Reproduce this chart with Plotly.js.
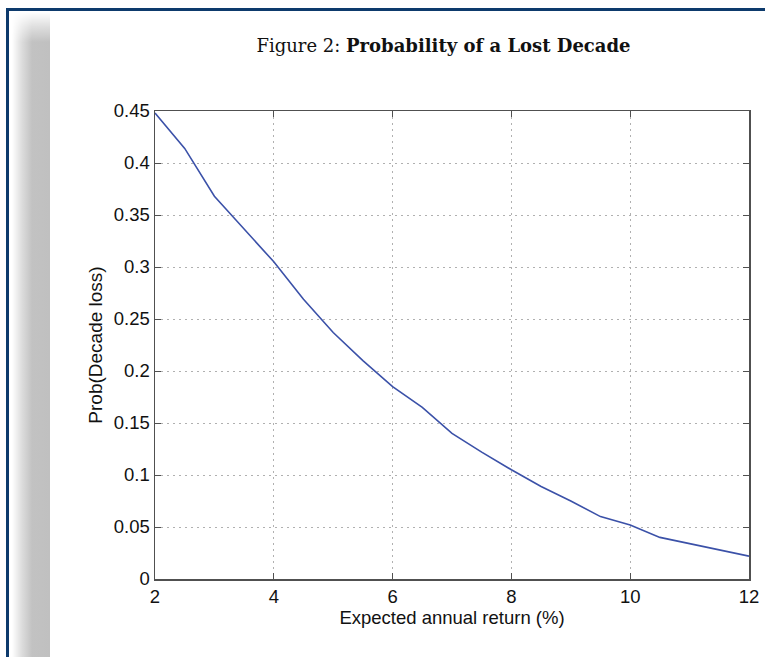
<!DOCTYPE html>
<html>
<head>
<meta charset="utf-8">
<script src="https://cdn.plot.ly/plotly-3.0.1.min.js"></script>
<style>
  html, body { margin: 0; padding: 0; background: #ffffff; }
  #wrap { position: relative; width: 765px; height: 657px; overflow: hidden; background: #ffffff; }
  #frame { position: absolute; left: 6px; top: 8px; right: -10px; bottom: -10px;
           border-top: 3px solid #0d3a6c; border-left: 3px solid #0d3a6c; }
  #shade { position: absolute; left: 12px; top: 12px; width: 38px; bottom: 0;
           background: linear-gradient(to right, #ffffff 0px, #dcdcdc 10px, #c2c2c2 20px, #c0c0c0 38px);
           -webkit-mask-image: linear-gradient(to bottom, transparent 0px, rgba(0,0,0,0.5) 14px, #000 30px);
           mask-image: linear-gradient(to bottom, transparent 0px, rgba(0,0,0,0.5) 14px, #000 30px); }
  #chart { position: absolute; left: 0; top: 0; width: 765px; height: 657px; }
</style>
</head>
<body>
<div id="wrap">
  <div id="frame"></div>
  <div id="shade"></div>
  <div id="chart"></div>
</div>
<script>
// Expected annual return (%)
var expectedReturn = [2, 2.5, 3, 3.5, 4, 4.5, 5, 5.5, 6, 6.5, 7, 7.5, 8, 8.5, 9, 9.5, 10, 10.5, 11, 11.5, 12];
// Probability of a decade loss
var probDecadeLoss = [0.448, 0.414, 0.368, 0.337, 0.305, 0.269, 0.237, 0.210, 0.185, 0.165, 0.140, 0.122, 0.105, 0.089, 0.075, 0.060, 0.052, 0.040, 0.034, 0.028, 0.022];

var titleText = 'Figure 2: <b>Probability of a Lost Decade</b>';
var xTitle = 'Expected annual return (%)';
var yTitle = 'Prob(Decade loss)';

var axisColor = '#505050';
var gridColor = '#b0b0b0';
var gridDash = '1.5px,4.5px';
var tickFont = { family: 'Liberation Sans, Arial, sans-serif', size: 18.5, color: '#111111' };
var titleFont = { family: 'Liberation Sans, Arial, sans-serif', size: 18.5, color: '#111111' };

var trace = {
  x: expectedReturn,
  y: probDecadeLoss,
  type: 'scatter',
  mode: 'lines',
  line: { color: '#3b51a8', width: 1.6 },
  hoverinfo: 'x+y'
};

var layout = {
  width: 765,
  height: 657,
  paper_bgcolor: 'rgba(0,0,0,0)',
  plot_bgcolor: 'rgba(0,0,0,0)',
  margin: { l: 154.5, r: 15.7, t: 111, b: 77.5, pad: 0 },
  showlegend: false,
  title: {
    text: titleText,
    font: { family: 'DejaVu Serif, Liberation Serif, serif', size: 18, color: '#111111' },
    xref: 'container', yref: 'container',
    x: 443.5 / 765, xanchor: 'center',
    y: 1 - 46 / 657, yanchor: 'middle'
  },
  xaxis: {
    range: [2, 12],
    tick0: 2, dtick: 2,
    showgrid: true, gridcolor: gridColor, griddash: gridDash, gridwidth: 1,
    zeroline: false,
    showline: true, linecolor: axisColor, linewidth: 1.5, mirror: 'ticks',
    ticks: 'inside', ticklen: 6, tickwidth: 1, tickcolor: axisColor,
    tickfont: tickFont,
    title: { text: xTitle, font: titleFont, standoff: 0 }
  },
  yaxis: {
    range: [0, 0.45],
    tick0: 0, dtick: 0.05,
    showgrid: true, gridcolor: gridColor, griddash: gridDash, gridwidth: 1,
    zeroline: false,
    showline: true, linecolor: axisColor, linewidth: 1.5, mirror: 'ticks',
    ticks: 'inside', ticklen: 6, tickwidth: 1, tickcolor: axisColor,
    tickfont: tickFont,
    title: { text: yTitle, font: { family: 'Liberation Sans, Arial, sans-serif', size: 19, color: '#111111' }, standoff: 6 }
  }
};

Plotly.newPlot('chart', [trace], layout, { displayModeBar: false, staticPlot: true });
</script>
</body>
</html>
